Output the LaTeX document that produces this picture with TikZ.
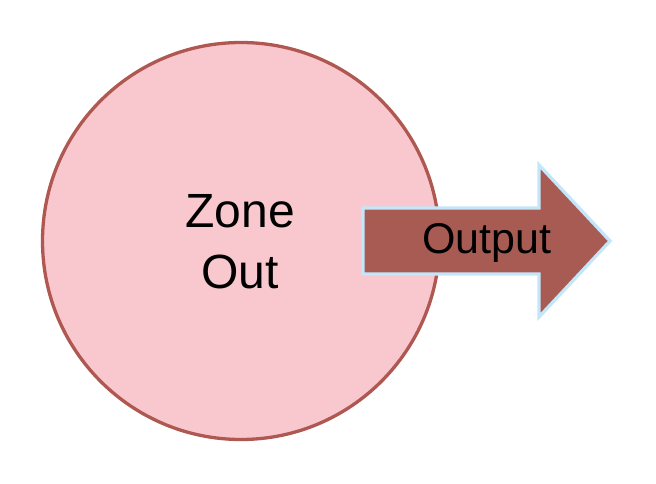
\documentclass[tikz,border=0pt]{standalone}
\usepackage{fontspec}
\setmainfont{Liberation Sans}
\definecolor{zonefill}{HTML}{F8C8CE}
\definecolor{zoneline}{HTML}{AF5852}
\definecolor{outfill}{HTML}{A85B53}
\definecolor{outline}{HTML}{C4E6FA}
\tikzset{
    zone/.style={circle, draw=zoneline, fill=zonefill, line width=3.3pt, minimum size=397pt, inner sep=0pt},
    outarrow/.style={draw=outline, fill=outfill, line width=3.3pt, line join=miter},
    label text/.style={font=\fontsize{48}{61}\selectfont, align=center, inner sep=0pt}
}
\begin{document}
\begin{tikzpicture}[x=1pt, y=-1pt]
    \useasboundingbox (0,0) rectangle (656,484);
    \node[zone] (z) at (241, 241) {};
    % arrow pointing out of the zone
    \coordinate (a1) at (363, 208);
    \coordinate (a2) at (539, 208);
    \coordinate (a3) at (539, 165);
    \coordinate (tip) at (610, 241);
    \coordinate (a4) at (539, 317);
    \coordinate (a5) at (539, 274);
    \coordinate (a6) at (363, 274);
    \draw[outarrow] (a1) -- (a2) -- (a3) -- (tip) -- (a4) -- (a5) -- (a6) -- cycle;
    \node[label text] (zt) at (240, 242) {Zone\\Out};
    \node[label text, font=\fontsize{43}{50}\selectfont] (ot) at (487, 243) {Output};
\end{tikzpicture}
\end{document}
